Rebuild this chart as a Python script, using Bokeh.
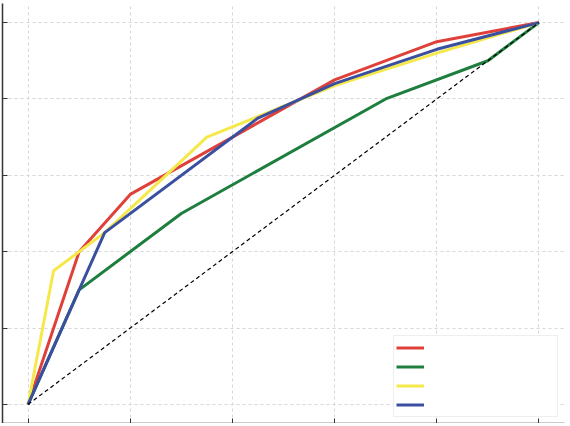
from bokeh.plotting import figure
from bokeh.models import Range1d, Legend, LegendItem, FixedTicker, CustomJSTickFormatter
from bokeh.embed import file_html
from bokeh.resources import INLINE

# Data
red_x = [0.0, 0.1, 0.2, 0.6, 0.8, 1.0]
red_y = [0.0, 0.4, 0.55, 0.85, 0.95, 1.0]
green_x = [0.0, 0.1, 0.3, 0.7, 0.9, 1.0]
green_y = [0.0, 0.3, 0.5, 0.8, 0.9, 1.0]
yellow_x = [0.0, 0.05, 0.15, 0.35, 0.6, 0.8, 1.0]
yellow_y = [0.0, 0.35, 0.45, 0.7, 0.835, 0.92, 1.0]
blue_x = [0.0, 0.15, 0.45, 0.6, 0.8, 1.0]
blue_y = [0.0, 0.45, 0.75, 0.84, 0.93, 1.0]
diag_x = [0.0, 1.0]
diag_y = [0.0, 1.0]
ticks = [0.0, 0.2, 0.4, 0.6, 0.8, 1.0]

p = figure(width=566, height=423, output_backend="svg", toolbar_location=None,
           x_range=Range1d(-0.05, 1.05), y_range=Range1d(-0.05, 1.05),
           min_border_left=2, min_border_right=2, min_border_top=3, min_border_bottom=0)
p.outline_line_color = None
p.background_fill_color = "white"
p.border_fill_color = "white"

for ax in (p.xaxis[0], p.yaxis[0]):
    ax.ticker = FixedTicker(ticks=ticks)
    ax.formatter = CustomJSTickFormatter(code="return '';")
    ax.major_label_standoff = 0
    ax.major_tick_in = 5
    ax.major_tick_out = 0
    ax.minor_tick_in = 0
    ax.minor_tick_out = 0
    ax.axis_line_color = "#333333"
    ax.axis_line_width = 1.5
    ax.major_tick_line_color = "#333333"
    ax.major_tick_line_width = 1

p.xgrid.ticker = FixedTicker(ticks=ticks)
p.ygrid.ticker = FixedTicker(ticks=ticks)
for g in (p.xgrid[0], p.ygrid[0]):
    g.grid_line_color = "#d6d6d6"
    g.grid_line_dash = "3 3"
    g.grid_line_width = 1

r_red = p.line(red_x, red_y, line_color="#e0403a", line_width=3)
r_green = p.line(green_x, green_y, line_color="#1e7e3e", line_width=3)
r_yellow = p.line(yellow_x, yellow_y, line_color="#f5e84a", line_width=3)
r_blue = p.line(blue_x, blue_y, line_color="#3a4fa0", line_width=3)
p.line(diag_x, diag_y, line_color="black", line_width=1.2, line_dash="4 3")

legend = Legend(items=[LegendItem(label=" ", renderers=[r_red]),
                       LegendItem(label=" ", renderers=[r_green]),
                       LegendItem(label=" ", renderers=[r_yellow]),
                       LegendItem(label=" ", renderers=[r_blue])],
                location="bottom_right", margin=6, padding=2, spacing=0,
                glyph_width=28, glyph_height=19, label_height=19,
                label_width=126, label_standoff=5,
                border_line_color="#dddddd", border_line_width=1,
                background_fill_alpha=1.0, label_text_font_size="10px")
p.add_layout(legend, "center")

open("out.html", "w").write(file_html(p, INLINE))
